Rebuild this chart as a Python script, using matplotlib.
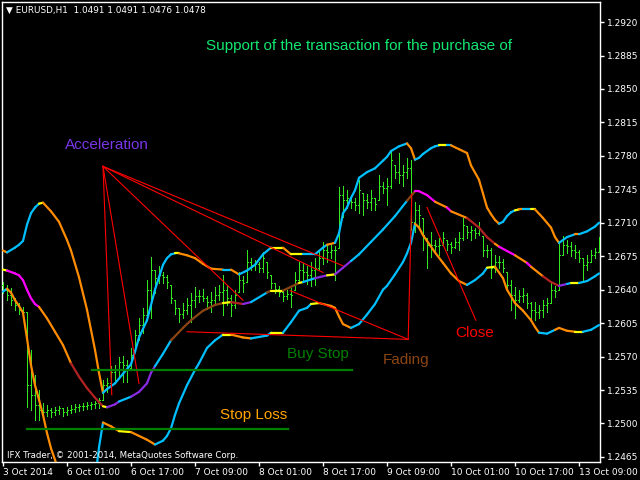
import matplotlib
matplotlib.use("Agg")
import matplotlib.pyplot as plt
from matplotlib.collections import LineCollection
import numpy as np

# ---------------- data ----------------
high = [1.2648,1.2645,1.2642,1.2631,1.2626,1.2622,1.2617,1.2577,1.2551,1.2535,
        1.2521,1.2519,1.2516,1.2517,1.2518,1.2516,1.2517,1.2519,1.2520,1.2520,
        1.2521,1.2523,1.2523,1.2524,1.2527,1.2546,1.2548,1.2560,1.2561,1.2570,
        1.2571,1.2566,1.2579,1.2598,1.2610,1.2621,1.2650,1.2674,1.2661,1.2665,
        1.2658,1.2655,1.2645,1.2629,1.2621,1.2626,1.2631,1.2637,1.2643,1.2640,
        1.2641,1.2633,1.2638,1.2643,1.2645,1.2655,1.2645,1.2634,1.2640,1.2658,
        1.2654,1.2681,1.2673,1.2671,1.2669,1.2679,1.2669,1.2655,1.2647,1.2644,
        1.2638,1.2640,1.2642,1.2658,1.2669,1.2668,1.2665,1.2669,1.2673,1.2681,
        1.2690,1.2687,1.2688,1.2686,1.2747,1.2748,1.2744,1.2739,1.2736,1.2755,
        1.2741,1.2740,1.2744,1.2736,1.2760,1.2753,1.2757,1.2786,1.2770,1.2783,
        1.2770,1.2778,1.2776,1.2732,1.2729,1.2715,1.2694,1.2700,1.2692,1.2694,
        1.2700,1.2692,1.2690,1.2694,1.2700,1.2715,1.2707,1.2707,1.2705,1.2711,
        1.2696,1.2687,1.2684,1.2676,1.2675,1.2672,1.2658,1.2650,1.2643,1.2640,
        1.2642,1.2637,1.2627,1.2627,1.2624,1.2629,1.2631,1.2647,1.2644,1.2689,
        1.2696,1.2692,1.2690,1.2687,1.2681,1.2673,1.2676,1.2681,1.2684,1.2695]
low = [1.2637,1.2629,1.2624,1.2619,1.2615,1.2610,1.2517,1.2514,1.2504,1.2504,
       1.2506,1.2508,1.2507,1.2509,1.2510,1.2508,1.2509,1.2511,1.2512,1.2513,
       1.2514,1.2515,1.2515,1.2516,1.2516,1.2525,1.2533,1.2537,1.2546,1.2549,
       1.2543,1.2543,1.2558,1.2577,1.2587,1.2595,1.2614,1.2610,1.2637,1.2647,
       1.2647,1.2642,1.2626,1.2615,1.2606,1.2610,1.2615,1.2606,1.2622,1.2627,
       1.2628,1.2620,1.2617,1.2624,1.2629,1.2614,1.2624,1.2612,1.2621,1.2638,
       1.2638,1.2648,1.2661,1.2661,1.2658,1.2658,1.2652,1.2642,1.2637,1.2633,
       1.2628,1.2630,1.2622,1.2640,1.2647,1.2648,1.2646,1.2644,1.2645,1.2661,
       1.2667,1.2669,1.2673,1.2650,1.2684,1.2716,1.2725,1.2725,1.2723,1.2720,
       1.2718,1.2725,1.2723,1.2723,1.2734,1.2741,1.2729,1.2746,1.2757,1.2752,
       1.2749,1.2757,1.2702,1.2700,1.2705,1.2681,1.2663,1.2674,1.2679,1.2676,
       1.2687,1.2681,1.2678,1.2684,1.2681,1.2692,1.2694,1.2692,1.2694,1.2697,
       1.2675,1.2674,1.2652,1.2658,1.2663,1.2658,1.2640,1.2619,1.2610,1.2627,
       1.2627,1.2621,1.2610,1.2608,1.2610,1.2611,1.2617,1.2626,1.2632,1.2640,
       1.2676,1.2678,1.2675,1.2673,1.2669,1.2650,1.2661,1.2669,1.2673,1.2679]
opens = [1.2645,1.2640,1.2634,1.2629,1.2624,1.2619,1.2617,1.2540,1.2530,1.2519,
         1.2514,1.2512,1.2514,1.2512,1.2514,1.2516,1.2512,1.2514,1.2515,1.2517,
         1.2518,1.2518,1.2519,1.2520,1.2521,1.2525,1.2540,1.2542,1.2554,1.2556,
         1.2564,1.2561,1.2558,1.2577,1.2593,1.2603,1.2614,1.2640,1.2661,1.2652,
         1.2655,1.2653,1.2645,1.2629,1.2621,1.2615,1.2619,1.2624,1.2629,1.2633,
         1.2633,1.2631,1.2627,1.2629,1.2634,1.2638,1.2640,1.2631,1.2624,1.2638,
         1.2650,1.2648,1.2669,1.2666,1.2667,1.2663,1.2669,1.2655,1.2647,1.2641,
         1.2638,1.2633,1.2635,1.2640,1.2650,1.2661,1.2658,1.2655,1.2661,1.2663,
         1.2673,1.2681,1.2679,1.2681,1.2684,1.2739,1.2734,1.2736,1.2732,1.2729,
         1.2741,1.2734,1.2732,1.2736,1.2734,1.2749,1.2746,1.2749,1.2770,1.2763,
         1.2760,1.2763,1.2767,1.2711,1.2723,1.2715,1.2694,1.2687,1.2687,1.2686,
         1.2687,1.2692,1.2688,1.2685,1.2690,1.2694,1.2707,1.2700,1.2702,1.2699,
         1.2696,1.2681,1.2681,1.2663,1.2669,1.2669,1.2658,1.2645,1.2634,1.2629,
         1.2633,1.2634,1.2626,1.2619,1.2617,1.2619,1.2624,1.2626,1.2640,1.2640,
         1.2676,1.2687,1.2686,1.2681,1.2679,1.2673,1.2666,1.2669,1.2676,1.2679]
close = [1.2640,1.2634,1.2629,1.2624,1.2619,1.2617,1.2540,1.2530,1.2519,1.2514,
         1.2512,1.2514,1.2512,1.2514,1.2516,1.2512,1.2514,1.2515,1.2517,1.2518,
         1.2518,1.2519,1.2520,1.2521,1.2525,1.2540,1.2542,1.2554,1.2556,1.2564,
         1.2561,1.2558,1.2572,1.2593,1.2603,1.2614,1.2640,1.2661,1.2652,1.2655,
         1.2653,1.2648,1.2631,1.2621,1.2615,1.2619,1.2624,1.2629,1.2633,1.2633,
         1.2631,1.2627,1.2629,1.2634,1.2638,1.2640,1.2631,1.2624,1.2634,1.2650,
         1.2647,1.2669,1.2666,1.2667,1.2663,1.2673,1.2658,1.2647,1.2641,1.2638,
         1.2633,1.2635,1.2634,1.2650,1.2661,1.2658,1.2655,1.2661,1.2663,1.2673,
         1.2681,1.2679,1.2681,1.2681,1.2739,1.2734,1.2736,1.2732,1.2729,1.2744,
         1.2734,1.2732,1.2736,1.2730,1.2749,1.2746,1.2749,1.2776,1.2763,1.2760,
         1.2763,1.2767,1.2711,1.2723,1.2718,1.2697,1.2687,1.2687,1.2686,1.2687,
         1.2694,1.2688,1.2685,1.2690,1.2694,1.2708,1.2700,1.2702,1.2699,1.2705,
         1.2681,1.2681,1.2663,1.2669,1.2669,1.2663,1.2645,1.2634,1.2629,1.2633,
         1.2634,1.2626,1.2619,1.2617,1.2619,1.2624,1.2626,1.2640,1.2639,1.2676,
         1.2687,1.2686,1.2681,1.2679,1.2673,1.2666,1.2669,1.2676,1.2679,1.2690]

# upper envelope
upper_idx = [0,1,3,4,5,6,7,8,9,10,12,14,16,17,19,21,22,23,24,25,
             26,28,30,32,33,34,36,38,39,40,41,42,43,44,46,48,50,52,55,57,
             59,61,63,65,67,70,72,75,78,80,81,83,84,85,86,87,88,89,91,93,
             95,96,97,99,101,102,103,104,105,107,108,109,111,112,114,116,117,119,121,122,
             123,124,125,126,127,128,129,130,132,133,135,137,138,139,141,143,144,146,148,149]
upper_val = [1.2681,1.2679,1.2684,1.2687,1.2691,1.2708,1.2720,1.2726,1.2730,1.2731,
             1.2722,1.2711,1.2692,1.2681,1.2653,1.2619,1.2598,1.2577,1.2553,1.2532,
             1.2536,1.2542,1.2552,1.2562,1.2575,1.2590,1.2608,1.2640,1.2653,1.2666,
             1.2673,1.2677,1.2678,1.2678,1.2676,1.2673,1.2667,1.2662,1.2661,1.2661,
             1.2656,1.2660,1.2666,1.2677,1.2684,1.2684,1.2677,1.2677,1.2677,1.2684,
             1.2687,1.2689,1.2699,1.2720,1.2726,1.2736,1.2744,1.2757,1.2763,1.2767,
             1.2775,1.2779,1.2785,1.2790,1.2793,1.2788,1.2776,1.2778,1.2782,1.2788,
             1.2790,1.2791,1.2791,1.2791,1.2787,1.2783,1.2770,1.2755,1.2726,1.2719,
             1.2713,1.2709,1.2711,1.2717,1.2721,1.2723,1.2724,1.2724,1.2724,1.2724,
             1.2715,1.2705,1.2695,1.2689,1.2695,1.2698,1.2698,1.2701,1.2706,1.2710]
upper_state = [(0,'o'),(1,'c'),(9,'y'),(10,'o'),(25,'c'),(43,'y'),(44,'o'),(55,'c'),(57,'o'),
               (59,'c'),(67,'y'),(70,'o'),(72,'y'),(75,'c'),(81,'o'),(83,'c'),(101,'o'),
               (103,'c'),(109,'y'),(111,'c'),(112,'o'),(124,'c'),(128,'y'),(129,'o'),
               (130,'c'),(132,'y'),(133,'o'),(139,'c'),(143,'o'),(144,'c')]

# lower envelope
lower_idx = [0,1,2,3,4,5,6,7,8,9,10,11,12,13,15,19,23,24,25,27,
             29,32,34,36,38,40,41,42,43,44,46,48,49,51,53,55,57,60,62,66,
             67,70,72,74,76,77,79,82,83,84,85,87,89,91,93,95,96,98,100,101,
             102,103,104,105,106,108,110,112,114,116,118,120,121,123,125,126,128,130,132,133,
             134,136,138,139,141,143,145,147,149]
lower_val = [1.2638,1.2641,1.2637,1.2629,1.2623,1.2616,1.2589,1.2561,1.2540,1.2525,
             1.2509,1.2490,1.2474,1.2462,1.2436,1.2410,1.2441,1.2475,1.2501,1.2497,
             1.2492,1.2491,1.2487,1.2483,1.2478,1.2482,1.2487,1.2495,1.2509,1.2521,
             1.2540,1.2556,1.2563,1.2579,1.2587,1.2593,1.2593,1.2590,1.2589,1.2592,
             1.2595,1.2595,1.2606,1.2618,1.2621,1.2625,1.2626,1.2623,1.2621,1.2612,
             1.2604,1.2600,1.2604,1.2614,1.2625,1.2640,1.2644,1.2656,1.2669,1.2678,
             1.2689,1.2709,1.2705,1.2697,1.2691,1.2679,1.2668,1.2657,1.2649,1.2645,
             1.2650,1.2657,1.2663,1.2664,1.2652,1.2640,1.2626,1.2618,1.2608,1.2601,
             1.2595,1.2594,1.2598,1.2600,1.2597,1.2596,1.2596,1.2598,1.2603]
lower_state = [(0,'c'),(1,'o'),(19,'c'),(25,'o'),(29,'y'),(32,'o'),(38,'c'),(55,'y'),
               (57,'o'),(62,'c'),(67,'y'),(70,'c'),(77,'y'),(79,'o'),(87,'c'),(103,'o'),
               (116,'c'),(121,'y'),(123,'o'),(134,'c'),(138,'o'),(143,'y'),(145,'c')]

# middle line
mid_idx = [0,1,3,4,5,6,7,8,9,11,13,15,17,19,21,23,25,26,28,29,
           32,34,36,37,38,40,42,45,47,50,53,55,57,60,62,66,67,70,74,75,
           78,81,83,85,87,89,92,95,98,101,103,104,106,108,111,112,116,119,121,123,
           124,128,131,132,135,137,139,141,142,144,146,148,149]
mid_val = [1.2661,1.2660,1.2657,1.2655,1.2650,1.2640,1.2631,1.2625,1.2622,1.2610,
           1.2596,1.2582,1.2563,1.2549,1.2537,1.2527,1.2518,1.2517,1.2520,1.2523,
           1.2528,1.2533,1.2542,1.2553,1.2560,1.2573,1.2587,1.2600,1.2608,1.2618,
           1.2624,1.2626,1.2627,1.2625,1.2627,1.2637,1.2639,1.2639,1.2647,1.2648,
           1.2652,1.2655,1.2656,1.2663,1.2670,1.2677,1.2690,1.2703,1.2717,1.2733,
           1.2743,1.2743,1.2739,1.2732,1.2726,1.2722,1.2715,1.2705,1.2695,1.2688,
           1.2685,1.2676,1.2668,1.2664,1.2654,1.2648,1.2644,1.2646,1.2647,1.2647,
           1.2649,1.2654,1.2657]
mid_state = [(0,'y'),(1,'m'),(9,'o'),(17,'r'),(25,'y'),(26,'p'),(29,'c'),(32,'p'),(38,'c'),
             (42,'b'),(55,'y'),(57,'r'),(60,'p'),(62,'c'),(66,'b'),(67,'y'),(70,'b'),
             (74,'y'),(75,'c'),(78,'p'),(81,'y'),(83,'p'),(87,'c'),(101,'b'),(103,'m'),
             (108,'o'),(111,'m'),(112,'o'),(116,'r'),(123,'o'),(124,'m'),(128,'o'),
             (131,'m'),(132,'o'),(135,'r'),(139,'p'),(141,'c'),(142,'y'),(144,'c')]

# trend lines (bar index, price)
apex = (25, 1.2769)
fan_ends = [(27.2, 1.2530), (34, 1.2542), (60, 1.2629), (80, 1.2658), (85, 1.2665)]
fade_pt = (101.3, 1.2588)
other_lines = [((71.8, 1.2639), fade_pt), ((46, 1.2596), fade_pt),
               (fade_pt, (102.2, 1.2740)), ((106, 1.2726), (118.2, 1.2608))]
buy_stop = ((22.2, 87.2), 1.2556)
stop_loss = ((6, 71.2), 1.2494)

ytick_vals = [1.2920,1.2885,1.2850,1.2815,1.2780,1.2745,1.2710,1.2675,1.2640,
              1.2605,1.2570,1.2535,1.2500,1.2465]
xtick_pos = [0,16,32,48,64,80,96,112,128,144]
xtick_lab = ['3 Oct 2014','6 Oct 01:00','6 Oct 17:00','7 Oct 09:00','8 Oct 01:00',
             '8 Oct 17:00','9 Oct 09:00','10 Oct 01:00','10 Oct 17:00','13 Oct 09:00']

# ---------------- drawing ----------------
COL = {'o': '#ff8c00', 'c': '#00bfff', 'y': '#ffff00', 'm': '#ff00ff',
       'p': '#8a2be2', 'b': '#8b4513', 'r': '#b22222'}

fig = plt.figure(figsize=(6.4, 4.8), dpi=100, facecolor='black')
ax = fig.add_axes([2/640, 18/480, 598/640, 460/480])
ax.set_facecolor('black')
ax.set_xlim(-0.25, 149.25)
ax.set_ylim(1.24597, 1.29410)

# OHLC bars
n = len(high)
xs = np.arange(n)
segs = []
for i in range(n):
    segs.append([(xs[i], low[i]), (xs[i], high[i])])
    segs.append([(xs[i] - 0.3, opens[i]), (xs[i], opens[i])])
    segs.append([(xs[i], close[i]), (xs[i] + 0.3, close[i])])
ax.add_collection(LineCollection(segs, colors='#32e620', linewidths=0.72,
                                 antialiased=False, zorder=3))


def colored_line(idx, val, states, lw=1.6):
    change = dict(states)
    cur = None
    segs, cols = [], []
    for k in range(len(idx) - 1):
        if idx[k] in change:
            cur = change[idx[k]]
        segs.append([(idx[k], val[k]), (idx[k + 1], val[k + 1])])
        cols.append(COL[cur])
    ax.add_collection(LineCollection(segs, colors=cols, linewidths=lw,
                                     capstyle='round', zorder=4))


colored_line(upper_idx, upper_val, upper_state)
colored_line(lower_idx, lower_val, lower_state)
colored_line(mid_idx, mid_val, mid_state)

# red trend lines
for e in fan_ends:
    ax.plot([apex[0], e[0]], [apex[1], e[1]], color='#ff0000', lw=0.8, zorder=5)
for a, b in other_lines:
    ax.plot([a[0], b[0]], [a[1], b[1]], color='#ff0000', lw=0.8, zorder=5)

# green horizontal levels
ax.plot(list(buy_stop[0]), [buy_stop[1]] * 2, color='#008000', lw=1.6, zorder=5)
ax.plot(list(stop_loss[0]), [stop_loss[1]] * 2, color='#008000', lw=1.6, zorder=5)

# axes styling
for s in ax.spines.values():
    s.set_color('white')
    s.set_linewidth(1)
ax.yaxis.tick_right()
ax.set_yticks(ytick_vals)
ax.set_yticklabels([f'{v:.4f}' for v in ytick_vals])
ax.set_xticks(xtick_pos)
ax.set_xticklabels(xtick_lab, ha='left')
ax.tick_params(axis='both', colors='white', labelcolor='white', labelsize=6.5,
               length=3, width=1, direction='out')
ax.tick_params(axis='x', pad=1.5)
ax.tick_params(axis='y', pad=2)
for lab in ax.get_xticklabels():
    lab.set_clip_on(False)

# texts (figure pixel coordinates)
def ftext(x, y, s, color, size, family='Liberation Sans', va='center'):
    fig.text(x / 640, 1 - y / 480, s, color=color, fontsize=size,
             family=family, ha='left', va=va)

ftext(6, 10, '\u25bc EURUSD,H1  1.0491 1.0491 1.0476 1.0478', 'white', 6.4, 'DejaVu Sans')
ftext(206, 46, 'Support of the transaction for the purchase of', '#12e870', 11)
ftext(65, 145, 'Acceleration', '#7a35e6', 11)
ftext(287, 354, 'Buy Stop', '#008000', 11)
ftext(383, 360, 'Fading', '#8b4513', 11)
ftext(455, 333, 'Close', '#ff0000', 11)
ftext(220, 415, 'Stop Loss', '#ffa500', 11)
ftext(7, 455, 'IFX Trader, \u00a9 2001-2014, MetaQuotes Software Corp.', 'white', 6.2, 'DejaVu Sans')

fig.savefig('out.png', dpi=100, facecolor='black')
